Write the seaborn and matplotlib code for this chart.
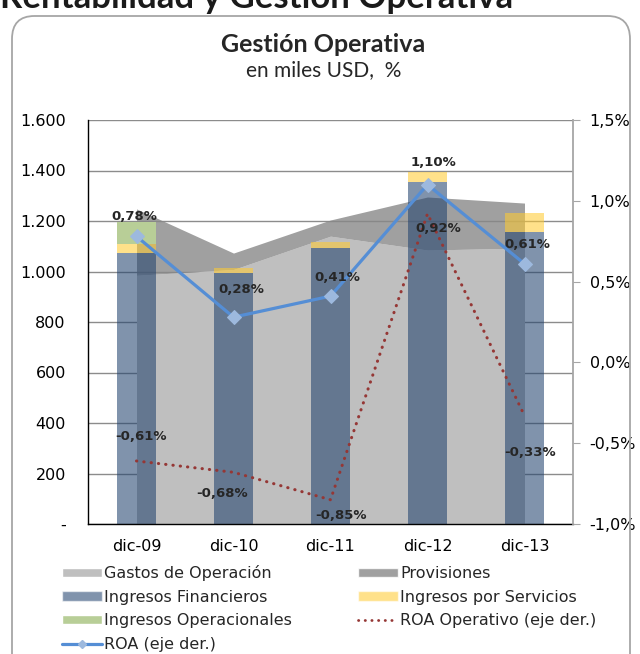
import matplotlib
matplotlib.use("Agg")
import matplotlib.pyplot as plt
import seaborn as sns
import numpy as np
from matplotlib.patches import Patch, FancyBboxPatch
from matplotlib.lines import Line2D
from matplotlib.ticker import FuncFormatter

# datos (miles USD y %)
periodos = ["dic-09", "dic-10", "dic-11", "dic-12", "dic-13"]
gastos_operacion = [985, 1008, 1140, 1085, 1093]
provisiones = [263, 65, 64, 210, 178]
ingresos_financieros = [1073, 994, 1093, 1354, 1156]
ingresos_servicios = [36, 20, 24, 40, 76]
ingresos_operacionales = [87, 0, 0, 0, 0]
roa_operativo = [-0.61, -0.68, -0.85, 0.92, -0.33]
roa = [0.78, 0.28, 0.41, 1.10, 0.61]

sns.set_style("white")
plt.rcParams["font.family"] = ["DejaVu Sans"]

fig = plt.figure(figsize=(6.4, 6.54), dpi=100)

# marco redondeado y titulo cortado arriba
marco = FancyBboxPatch((12/640, -0.1), 618/640, 1 - 16/654 + 0.1,
                       boxstyle="round,pad=0,rounding_size=0.035",
                       transform=fig.transFigure, fill=False,
                       edgecolor="#A6A6A6", lw=1.3)
fig.add_artist(marco)
fig.text(0.0, 1 - 8/654, "Rentabilidad y Gestión Operativa", family="Lato",
         weight="bold", fontsize=25, va="baseline", ha="left", color="#1a1a1a")

fig.text(0.505, 1 - 45/654, "Gestión Operativa", family="Lato", weight="bold",
         fontsize=18, ha="center", va="center")
fig.text(0.505, 1 - 70/654, "en miles USD,  %", family="Lato",
         fontsize=15, ha="center", va="center")

ax = fig.add_axes([88/640, 1 - 524/654, 485/640, 404/654])
x = np.arange(len(periodos))

c_gastos = "#BFBFBF"
c_prov = "#888888"
c_fin = "#20416D"
c_serv = "#FFCB31"
c_oper = "#B8CE97"
c_roa = "#558ED5"
c_roa_op = "#953735"

# areas apiladas
tope = np.array(gastos_operacion) + np.array(provisiones)
ax.fill_between(x, 0, gastos_operacion, color=c_gastos, lw=0, zorder=1)
ax.fill_between(x, gastos_operacion, tope, color=c_prov, alpha=0.8, lw=0, zorder=1)

# barras apiladas
ancho = 0.41
base2 = np.array(ingresos_financieros)
base3 = base2 + np.array(ingresos_servicios)
ax.bar(x, ingresos_financieros, ancho, color=c_fin, alpha=0.57, lw=0, zorder=2)
ax.bar(x, ingresos_servicios, ancho, bottom=base2, color=c_serv, alpha=0.57, lw=0, zorder=2)
ax.bar(x, ingresos_operacionales, ancho, bottom=base3, color=c_oper, lw=0, zorder=2)

ax.set_xlim(-0.5, 4.5)
ax.set_ylim(0, 1600)
ax.set_yticks(range(0, 1601, 200))
ax.yaxis.set_major_formatter(FuncFormatter(
    lambda v, _: "-" if v == 0 else f"{int(v):,}".replace(",", ".")))
ax.set_xticks(x)
ax.set_xticklabels(periodos)
ax.yaxis.grid(True, color="#8C8C8C", lw=1)
ax.set_axisbelow(True)
ax.tick_params(axis="y", length=0, pad=16, labelsize=11.5, colors="black")
ax.tick_params(axis="x", length=0, pad=11, labelsize=11.5, colors="black")
for s in ["top", "right"]:
    ax.spines[s].set_visible(False)
for s in ["left", "bottom"]:
    ax.spines[s].set_color("black")
    ax.spines[s].set_linewidth(1)

# eje derecho
ax2 = ax.twinx()
sns.lineplot(x=x, y=roa_operativo, ax=ax2, color=c_roa_op, lw=2.2,
             ls=(0, (0.1, 2.3)), dash_capstyle="round", legend=False, zorder=4)
sns.lineplot(x=x, y=roa, ax=ax2, color=c_roa, lw=2.3, marker="D", markersize=7,
             markerfacecolor="#9DB9DE", markeredgecolor="#9DB9DE", legend=False, zorder=5)
ax2.set_ylim(-1.0, 1.5)
ax2.set_yticks(np.arange(-1.0, 1.51, 0.5))
ax2.yaxis.set_major_formatter(FuncFormatter(lambda v, _: f"{v:.1f}%".replace(".", ",")))
ax2.tick_params(axis="y", direction="out", length=5, color="#A6A6A6", pad=7,
                labelsize=11.5, labelcolor="black")
ax2.set_xlabel("")
ax2.set_ylabel("")
for s in ["top", "left", "bottom"]:
    ax2.spines[s].set_visible(False)
ax2.spines["right"].set_color("#A6A6A6")
ax2.spines["right"].set_linewidth(1.3)

# etiquetas de datos (desplazamiento en pixeles)
desp_roa = [(-2, 20), (8, 28), (7, 19), (6, 22), (3, 19)]
desp_roa_op = [(4, 24), (-11, -21), (11, -16), (11, -15), (6, -37)]
for serie, desp in [(roa, desp_roa), (roa_operativo, desp_roa_op)]:
    for xi, v, (dx, dy) in zip(x, serie, desp):
        ax2.annotate(f"{v:.2f}%".replace(".", ","), (xi, v),
                     xytext=(dx * 0.72, dy * 0.72), textcoords="offset points",
                     ha="center", va="center", fontsize=9.5, fontweight="bold",
                     zorder=6)

# leyenda
handles = [
    Patch(facecolor=c_gastos, label="Gastos de Operación"),
    Patch(facecolor=c_fin, alpha=0.57, label="Ingresos Financieros"),
    Patch(facecolor=c_oper, label="Ingresos Operacionales"),
    Line2D([], [], color=c_roa, lw=2.3, marker="D", markersize=4,
           markerfacecolor="#9DB9DE", markeredgecolor="#9DB9DE", label="ROA (eje der.)"),
    Patch(facecolor=c_prov, alpha=0.8, label="Provisiones"),
    Patch(facecolor=c_serv, alpha=0.57, label="Ingresos por Servicios"),
    Line2D([], [], color=c_roa_op, lw=2, ls=(0, (0.1, 2.3)), dash_capstyle="round",
           label="ROA Operativo (eje der.)"),
]
fig.legend(handles=handles, loc="upper left", bbox_to_anchor=(62/640, 1 - 565/654),
           ncol=2, frameon=False, fontsize=11.5, handlelength=2.5, handleheight=0.5,
           handletextpad=0.15, labelspacing=0.54, columnspacing=4.1,
           borderpad=0, borderaxespad=0)

fig.savefig("out.png", dpi=100)
